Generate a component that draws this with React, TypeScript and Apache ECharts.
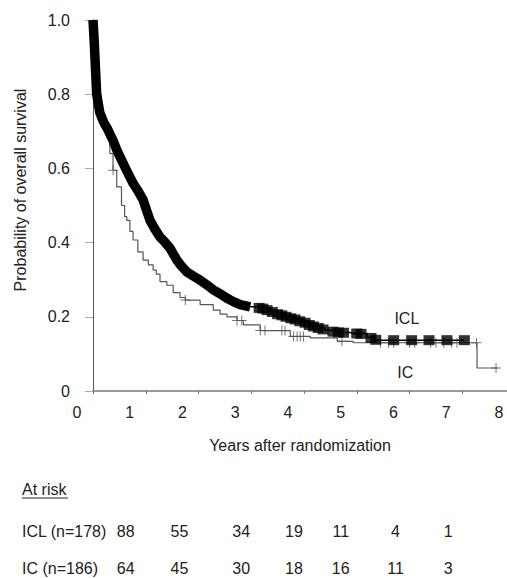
import React, { useEffect, useRef } from "react";
import * as echarts from "echarts";

// ---- data ----
const xTickLabels = ["0", "1", "2", "3", "4", "5", "6", "7", "8"];
const yTickLabels = ["0", "0.2", "0.4", "0.6", "0.8", "1.0"];

// ICL: thick early part of the curve (dense censoring forms a heavy band)
const iclBand: [number, number][] = [
  [0, 1.0], [0.02, 0.95], [0.04, 0.89], [0.07, 0.8], [0.13, 0.75], [0.2, 0.725],
  [0.28, 0.705], [0.38, 0.675], [0.45, 0.65], [0.55, 0.62], [0.67, 0.585],
  [0.76, 0.56], [0.85, 0.54], [0.95, 0.515], [1.02, 0.485], [1.08, 0.46],
  [1.18, 0.435], [1.27, 0.415], [1.37, 0.4], [1.46, 0.385], [1.52, 0.37],
  [1.59, 0.353], [1.68, 0.336], [1.78, 0.321], [1.9, 0.31], [2.03, 0.299],
  [2.15, 0.287], [2.28, 0.273], [2.41, 0.262], [2.54, 0.25], [2.66, 0.241],
  [2.79, 0.233], [2.98, 0.227],
];
// ICL: Kaplan-Meier steps of the tail
const iclTail: [number, number][] = [
  [2.98, 0.227], [3.2, 0.222], [3.35, 0.215], [3.5, 0.207], [3.65, 0.2],
  [3.8, 0.193], [3.95, 0.187], [4.1, 0.178], [4.25, 0.17], [4.4, 0.164],
  [4.6, 0.158], [4.9, 0.155], [5.2, 0.145], [5.35, 0.137], [7.04, 0.137],
];
// ICL censored observations (squares)
const iclCensored: [number, number][] = [
  [3.15, 0.224], [3.22, 0.222], [3.3, 0.218], [3.4, 0.213], [3.5, 0.207],
  [3.58, 0.204], [3.66, 0.2], [3.75, 0.196], [3.83, 0.193], [3.92, 0.188],
  [4.02, 0.184], [4.1, 0.178], [4.18, 0.174], [4.27, 0.17], [4.36, 0.166],
  [4.55, 0.16], [4.65, 0.158], [4.75, 0.157], [5.0, 0.155], [5.08, 0.154],
  [5.27, 0.143], [5.36, 0.138], [5.7, 0.137], [6.04, 0.137], [6.37, 0.137],
  [6.71, 0.137], [7.04, 0.137],
];
// IC: Kaplan-Meier steps
const icCurve: [number, number][] = [
  [0, 1.0], [0.03, 0.94], [0.05, 0.9], [0.08, 0.84], [0.1, 0.8], [0.15, 0.75],
  [0.2, 0.72], [0.26, 0.69], [0.32, 0.64], [0.38, 0.595], [0.45, 0.55],
  [0.54, 0.5], [0.6, 0.47], [0.64, 0.46], [0.7, 0.43], [0.76, 0.407],
  [0.85, 0.375], [0.95, 0.353], [1.05, 0.34], [1.14, 0.326], [1.2, 0.315],
  [1.27, 0.295], [1.4, 0.285], [1.52, 0.265], [1.65, 0.252], [1.75, 0.245],
  [2.03, 0.233], [2.28, 0.218], [2.41, 0.207], [2.54, 0.2], [2.73, 0.19],
  [2.85, 0.178], [3.17, 0.163], [3.74, 0.147], [4.12, 0.143], [4.63, 0.134],
  [4.93, 0.13], [7.28, 0.062], [7.67, 0.062],
];
// IC censored observations (+)
const icCensored: [number, number][] = [
  [0.38, 0.595], [1.75, 0.245], [2.73, 0.19], [2.82, 0.19], [3.17, 0.163],
  [3.26, 0.163], [3.58, 0.163], [3.64, 0.163], [3.8, 0.147], [3.87, 0.147],
  [3.93, 0.147], [3.99, 0.147], [4.72, 0.134], [5.45, 0.13], [5.6, 0.13],
  [5.7, 0.13], [6.0, 0.13], [6.1, 0.13], [6.4, 0.13], [6.5, 0.13],
  [6.65, 0.13], [6.8, 0.13], [6.9, 0.13], [7.27, 0.13], [7.64, 0.062],
];

// At-risk table
const atRiskYears = [1, 2, 3, 4, 5, 6, 7];
const iclAtRisk = [88, 55, 34, 19, 11, 4, 1];
const icAtRisk = [64, 45, 30, 18, 16, 11, 3];
const iclRowLabel = "ICL (n=178)";
const icRowLabel = "IC (n=186)";

const FONT = "'Liberation Sans', Arial, sans-serif";
const FS = 16;
const TXT = "#222";
const LABEL_SHIFT = 16; // tick labels sit left of their ticks in the original
const colNudge = [-4, -3, 6, 6, 0, 2, 2];

export default function App() {
  const ref = useRef<HTMLDivElement>(null);
  useEffect(() => {
    if (!ref.current) return;
    const chart = echarts.init(ref.current, undefined, { renderer: "svg" });
    const option: any = {
      animation: false,
      grid: { left: 93, right: 0, top: 20, bottom: 187 },
      xAxis: {
        type: "value",
        min: 0,
        max: 8,
        interval: 1,
        name: "Years after randomization",
        nameLocation: "middle",
        nameGap: 46,
        nameTextStyle: { fontFamily: FONT, fontSize: FS, color: TXT, padding: [0, 8, 0, 0] },
        axisLine: { show: true, lineStyle: { color: "#777", width: 1.5 } },
        axisTick: { show: true, length: 3, lineStyle: { color: "#777" } },
        splitLine: { show: false },
        axisLabel: {
          margin: 13,
          formatter: (v: number) => `{a|${xTickLabels[Math.round(v)] ?? ""}}`,
          rich: {
            a: {
              fontFamily: FONT,
              fontSize: FS,
              color: TXT,
              padding: [0, LABEL_SHIFT * 2, 0, 0],
            },
          },
        },
      },
      yAxis: {
        type: "value",
        min: 0,
        max: 1,
        interval: 0.2,
        axisLine: { show: true, lineStyle: { color: "#555", width: 1 } },
        axisTick: { show: true, length: 8, lineStyle: { color: "#aaa" } },
        splitLine: { show: false },
        axisLabel: {
          margin: 23,
          fontFamily: FONT,
          fontSize: FS,
          color: TXT,
          formatter: (v: number) => yTickLabels[Math.round(v * 5)] ?? "",
        },
      },
      series: [
        {
          type: "line",
          name: "IC",
          data: icCurve,
          step: "end",
          showSymbol: false,
          lineStyle: { color: "#555", width: 1.2 },
          z: 1,
        },
        {
          type: "scatter",
          name: "IC censored",
          data: icCensored,
          symbol: "path://M0,4.5H10V5.5H0Z M4.5,0H5.5V10H4.5Z",
          symbolSize: 10,
          itemStyle: { color: "#555" },
          z: 1,
        },
        {
          type: "line",
          name: "ICL tail",
          data: iclTail,
          step: "end",
          showSymbol: false,
          lineStyle: { color: "#000", width: 1.5 },
          z: 2,
        },
        {
          type: "line",
          name: "ICL",
          data: iclBand,
          showSymbol: false,
          lineStyle: { color: "#000", width: 9.5, cap: "butt", join: "round" },
          z: 3,
        },
        {
          type: "scatter",
          name: "ICL censored",
          data: iclCensored,
          symbol: "rect",
          symbolSize: [11, 10],
          itemStyle: { color: "#000" },
          z: 3,
        },
      ],
    };
    chart.setOption(option);

    const px = (t: number, s: number) =>
      chart.convertToPixel({ gridIndex: 0 }, [t, s]) as number[];
    const [iclLx, iclLy] = px(5.95, 0.195);
    const [icLx, icLy] = px(5.92, 0.05);
    const row1Y = 531;
    const row2Y = 568;
    const txt = (text: string, x: number, y: number, align = "center") => ({
      type: "text",
      x,
      y,
      style: {
        text,
        fontFamily: FONT,
        fontSize: FS,
        fill: TXT,
        align,
        verticalAlign: "middle",
      },
    });
    const graphic: any[] = [
      txt("ICL", iclLx, iclLy),
      txt("IC", icLx, icLy),
      {
        type: "text",
        x: 20,
        y: 190,
        rotation: Math.PI / 2,
        style: {
          text: "Probability of overall survival",
          fontFamily: FONT,
          fontSize: FS,
          fill: TXT,
          align: "center",
          verticalAlign: "middle",
        },
      },
      txt("At risk", 22, 489, "left"),
      {
        type: "line",
        shape: { x1: 22, y1: 498, x2: 68, y2: 498 },
        style: { stroke: TXT, lineWidth: 1 },
      },
      txt(iclRowLabel, 22, row1Y, "left"),
      txt(icRowLabel, 22, row2Y, "left"),
    ];
    atRiskYears.forEach((yr, i) => {
      const x = px(yr, 0)[0] - LABEL_SHIFT + colNudge[i];
      graphic.push(txt(String(iclAtRisk[i]), x, row1Y));
      graphic.push(txt(String(icAtRisk[i]), x, row2Y));
    });
    chart.setOption({ graphic });

    return () => chart.dispose();
  }, []);
  return (
    <div
      style={{
        position: "absolute",
        left: 0,
        top: 0,
        width: 507,
        height: 578,
        overflow: "hidden",
        background: "#fff",
      }}
    >
      <div ref={ref} style={{ width: 515, height: 578 }} />
    </div>
  );
}
